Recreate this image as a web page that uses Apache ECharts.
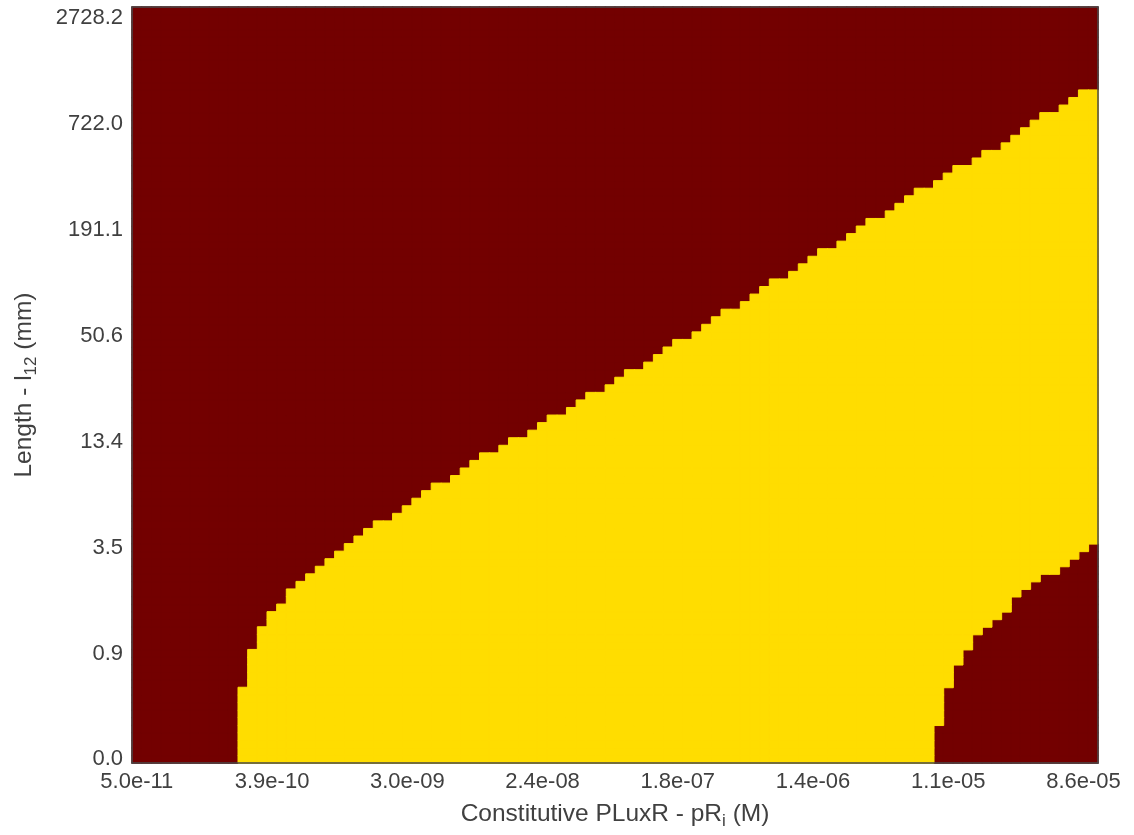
<!DOCTYPE html>
<html>
<head>
<meta charset="utf-8">
<script src="https://cdn.jsdelivr.net/npm/echarts@6/dist/echarts.min.js"></script>
<style>
html,body{margin:0;padding:0;background:#fff;}
#chart{width:1134px;height:835px;}
</style>
</head>
<body>
<div id="chart"></div>
<script>
// Tick labels (shown at every 14th cell)
const xTickLabels = ['5.0e-11','3.9e-10','3.0e-09','2.4e-08','1.8e-07','1.4e-06','1.1e-05','8.6e-05'];
const yTickLabels = ['0.0','0.9','3.5','13.4','50.6','191.1','722.0','2728.2'];

// Per column (100 columns, left to right): number of rows (from the bottom)
// up to the top edge of the yellow region
const yellowTop = [
  0,0,0,0,0,0,0,0,0,0,
  0,10,15,18,20,21,23,24,25,26,
  27,28,29,30,31,32,32,33,34,35,
  36,37,37,38,39,40,41,41,42,43,
  43,44,45,46,46,47,48,49,49,50,
  51,52,52,53,54,55,56,56,57,58,
  59,60,60,61,62,63,64,64,65,66,
  67,68,68,69,70,71,72,72,73,74,
  75,76,76,77,78,79,79,80,81,81,
  82,83,84,85,86,86,87,88,89,89
];
// Per column: number of dark rows at the bottom (below the yellow region)
const yellowBottom = [
  0,0,0,0,0,0,0,0,0,0,
  0,0,0,0,0,0,0,0,0,0,
  0,0,0,0,0,0,0,0,0,0,
  0,0,0,0,0,0,0,0,0,0,
  0,0,0,0,0,0,0,0,0,0,
  0,0,0,0,0,0,0,0,0,0,
  0,0,0,0,0,0,0,0,0,0,
  0,0,0,0,0,0,0,0,0,0,
  0,0,0,5,10,13,15,17,18,19,
  20,22,23,24,25,25,26,27,28,29
];

const nCols = yellowTop.length;
const nRows = 100;
const xCats = [], yCats = [];
for (let i = 0; i < nCols; i++) xCats.push(i);
for (let j = 0; j < nRows; j++) yCats.push(j);

const darkCells = [], yellowCells = [];
for (let c = 0; c < nCols; c++) {
  for (let r = 0; r < nRows; r++) {
    if (r >= yellowBottom[c] && r < yellowTop[c]) yellowCells.push([c, r, 1]);
    else darkCells.push([c, r, 0]);
  }
}

const DARK = '#730000';
const YELLOW = '#FFDD00';
const AXIS = '#4a4a4a';
const TXT = '#404040';
const FONT = '"Liberation Sans", Arial, Helvetica, sans-serif';

const nameStyle = {
  color: TXT, fontSize: 24.5, fontFamily: FONT, lineHeight: 32,
  rich: { sub: { fontSize: 17, fontFamily: FONT, color: TXT, verticalAlign: 'bottom', lineHeight: 17 } }
};

const chart = echarts.init(document.getElementById('chart'));
chart.setOption({
  animation: false,
  backgroundColor: '#fff',
  grid: { left: 128, right: 36, top: 7, bottom: 63, containLabel: false,
          show: true, backgroundColor: DARK, borderWidth: 0 },
  xAxis: [{
    type: 'category', data: xCats, position: 'bottom', z: 10,
    axisLine: { show: true, lineStyle: { color: AXIS, width: 1.5 } },
    axisTick: { show: false },
    splitLine: { show: false },
    axisLabel: {
      interval: 13, margin: 8, color: TXT, fontSize: 22, fontFamily: FONT,
      formatter: (v, idx) => xTickLabels[Math.round(idx / 14)]
    },
    name: 'Constitutive PLuxR - pR{sub|i} (M)',
    nameLocation: 'middle', nameGap: 30,
    nameTextStyle: nameStyle
  }, {
    type: 'category', data: xCats, position: 'top', z: 10,
    axisLine: { show: true, lineStyle: { color: AXIS, width: 1.5 } },
    axisTick: { show: false }, axisLabel: { show: false }, splitLine: { show: false }
  }],
  yAxis: [{
    type: 'category', data: yCats, position: 'left', z: 10,
    axisLine: { show: true, lineStyle: { color: AXIS, width: 1.5 } },
    axisTick: { show: false },
    splitLine: { show: false },
    axisLabel: {
      interval: 13, margin: 9, color: TXT, fontSize: 22, fontFamily: FONT,
      formatter: (v, idx) => yTickLabels[Math.round(idx / 14)]
    },
    name: 'Length - l{sub|12} (mm)',
    nameLocation: 'middle', nameGap: 92,
    nameTextStyle: nameStyle
  }, {
    type: 'category', data: yCats, position: 'right', z: 10,
    axisLine: { show: true, lineStyle: { color: AXIS, width: 1.5 } },
    axisTick: { show: false }, axisLabel: { show: false }, splitLine: { show: false }
  }],
  series: [{
    name: 'low', type: 'heatmap',
    xAxisIndex: 0, yAxisIndex: 0,
    data: darkCells,
    progressive: 0,
    emphasis: { disabled: true },
    itemStyle: { color: DARK, borderColor: DARK, borderWidth: 1 }
  }, {
    name: 'high', type: 'heatmap',
    xAxisIndex: 0, yAxisIndex: 0,
    data: yellowCells,
    progressive: 0,
    emphasis: { disabled: true },
    itemStyle: { color: YELLOW, borderColor: YELLOW, borderWidth: 1 }
  }]
});
</script>
</body>
</html>
